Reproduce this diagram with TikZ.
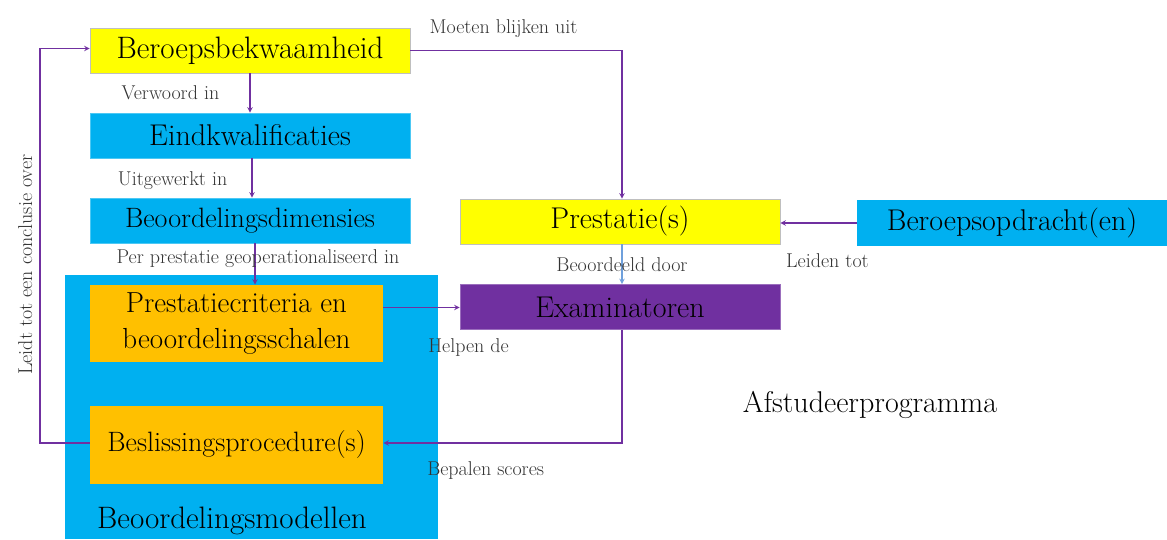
\documentclass[tikz,border=0pt]{standalone}
\usepackage{fontspec}
\usepackage{xcolor}
\usepackage{tikz}
\usetikzlibrary{arrows, positioning}
\definecolor{geel}{RGB}{255,255,0}
\definecolor{blauw}{RGB}{0,176,240}
\definecolor{oranje}{RGB}{255,192,0}
\definecolor{paars}{RGB}{112,48,160}
\definecolor{lichtblauw}{RGB}{111,160,220}

\begin{document}
\begin{tikzpicture}[
  x=1pt, y=-1pt,
  box/.style={rectangle, draw=gray!50, line width=0.8pt, minimum width=320pt, minimum height=45pt, align=center, font=\fontsize{30}{36}\selectfont, inner sep=0pt},
  lbl/.style={font=\fontsize{20}{24}\selectfont, text=black!80, inner sep=2pt},
  arrow/.style={->, >=stealth, draw=paars, line width=1.4pt}
]
\useasboundingbox (0,0) rectangle (1167,539);

\node[box, draw=none, fill=blauw, minimum width=373pt, minimum height=264pt] (modellen) at (251.5,407) {};
\node[font=\fontsize{31}{36}\selectfont, anchor=base west, inner sep=0pt] (modtekst) at (97,528) {Beoordelingsmodellen};

\node[box, fill=geel, font=\fontsize{31}{36}\selectfont] (bekw) at (250,50.5) {Beroepsbekwaamheid};
\node[box, fill=blauw, draw=blauw!70] (eind) at (250,135.5) {Eindkwalificaties};
\node[box, fill=blauw, draw=blauw!70, font=\fontsize{28}{34}\selectfont] (dim) at (250,220.5) {Beoordelingsdimensies};
\node[box, fill=oranje, draw=none, minimum width=293pt, minimum height=77pt, font=\fontsize{29}{36}\selectfont] (crit) at (236.5,323.5) {Prestatiecriteria en\\beoordelingsschalen};
\node[box, fill=oranje, draw=none, minimum width=293pt, minimum height=78pt, font=\fontsize{28}{34}\selectfont] (besl) at (236.5,445) {Beslissingsprocedure(s)};
\node[box, fill=geel] (prest) at (620,221.5) {Prestatie(s)};
\node[box, fill=blauw, draw=none, minimum width=310pt, minimum height=46pt] (opdr) at (1012,223) {Beroepsopdracht(en)};
\node[box, fill=paars, draw=paars!70] (exam) at (620,307) {Examinatoren};
\node[font=\fontsize{30}{36}\selectfont, inner sep=0pt] (afst) at (870,405) {Afstudeerprogramma};

\coordinate (links) at (40,443);

\draw[arrow] (bekw) -- node[lbl, left=28pt] {Verwoord in} (eind);
\draw[arrow] ([xshift=2pt]eind.south) -- node[lbl, left=22pt, yshift=-3pt] {Uitgewerkt in} ([xshift=2pt]eind.south |- dim.north);
\draw[arrow] ([xshift=5pt]dim.south) -- node[lbl, pos=0.38, xshift=3pt] {Per prestatie geoperationaliseerd in} ([xshift=5pt]dim.south |- crit.north);
\draw[arrow] (bekw.east) -| node[lbl, pos=0.22, above=10pt] {Moeten blijken uit} ([xshift=2pt]prest.north);
\draw[arrow] (opdr.west) -- node[lbl, below=28pt, xshift=9pt] {Leiden tot} (opdr.west -| prest.east);
\draw[arrow, draw=lichtblauw] ([xshift=2pt]prest.south) -- node[lbl] {Beoordeeld door} ([xshift=2pt]exam.north);
\draw[arrow] ([yshift=16pt]crit.east) -- node[lbl, below=28pt, xshift=47pt] {Helpen de} ([yshift=16pt]crit.east -| exam.west);
\draw[arrow] ([xshift=2pt]exam.south) |- node[lbl, pos=0.75, below=16pt, xshift=-17pt] {Bepalen scores} ([yshift=2pt]besl.east);
\draw[arrow] ([yshift=2pt]besl.west) -- (links) |- node[lbl, pos=0.226, rotate=90, anchor=south, inner sep=7pt] {Leidt tot een conclusie over} ([yshift=2pt]bekw.west);
\end{tikzpicture}
\end{document}
